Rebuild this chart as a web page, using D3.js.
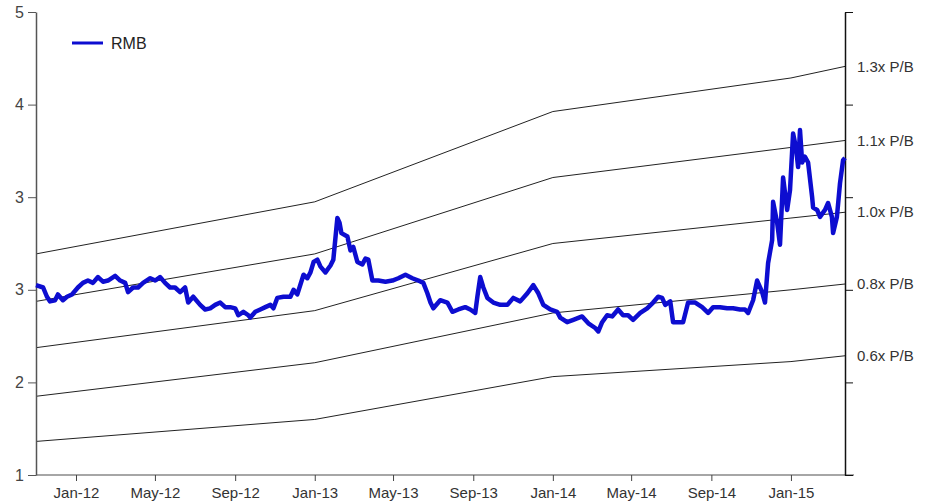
<!DOCTYPE html>
<html>
<head>
<meta charset="utf-8">
<script src="https://cdn.jsdelivr.net/npm/d3@7"></script>
<style>
  body { margin: 0; background: #fff; }
  svg text { font-family: "Liberation Sans", Arial, sans-serif; }
</style>
</head>
<body>
<svg id="chart" width="925" height="504"></svg>
<script>
// x positions are decimal years (2012.5 = mid 2012)
var rmbYears = [2011.832, 2011.862, 2011.878, 2011.891, 2011.912, 2011.924, 2011.945, 2011.962, 2011.983,
  2012.008, 2012.029, 2012.050, 2012.071, 2012.092, 2012.113, 2012.134, 2012.164, 2012.185, 2012.206, 2012.218,
  2012.239, 2012.260, 2012.281, 2012.311, 2012.332, 2012.352, 2012.373, 2012.394, 2012.415, 2012.436, 2012.457,
  2012.470, 2012.491, 2012.520, 2012.541, 2012.562, 2012.583, 2012.604, 2012.625, 2012.646, 2012.667, 2012.680,
  2012.701, 2012.722, 2012.730, 2012.751, 2012.772, 2012.793, 2012.814, 2012.827, 2012.843, 2012.869, 2012.898,
  2012.911, 2012.927, 2012.953, 2012.969, 2012.982, 2012.995, 2013.011, 2013.024, 2013.045, 2013.066, 2013.078,
  2013.095, 2013.104, 2013.112, 2013.137, 2013.150, 2013.162, 2013.179, 2013.200, 2013.213, 2013.225, 2013.242,
  2013.267, 2013.297, 2013.326, 2013.351, 2013.381, 2013.410, 2013.435, 2013.456, 2013.473, 2013.486, 2013.498,
  2013.527, 2013.557, 2013.578, 2013.603, 2013.632, 2013.653, 2013.674, 2013.683, 2013.695, 2013.708, 2013.725,
  2013.750, 2013.779, 2013.809, 2013.834, 2013.863, 2013.893, 2013.918, 2013.939, 2013.960, 2013.989, 2014.018,
  2014.031, 2014.060, 2014.086, 2014.123, 2014.149, 2014.178, 2014.191, 2014.207, 2014.228, 2014.249, 2014.274,
  2014.295, 2014.316, 2014.337, 2014.367, 2014.396, 2014.421, 2014.442, 2014.459, 2014.472, 2014.493, 2014.505,
  2014.522, 2014.547, 2014.568, 2014.598, 2014.627, 2014.652, 2014.673, 2014.702, 2014.732, 2014.757, 2014.786,
  2014.807, 2014.820, 2014.841, 2014.858, 2014.879, 2014.891, 2014.904, 2014.921, 2014.925, 2014.942, 2014.954,
  2014.967, 2014.984, 2014.996, 2015.009, 2015.021, 2015.030, 2015.038, 2015.047, 2015.059, 2015.072, 2015.089,
  2015.093, 2015.110, 2015.122, 2015.143, 2015.156, 2015.172, 2015.177, 2015.193, 2015.206, 2015.219, 2015.227];

var rmbValues = [2.64, 2.62, 2.54, 2.50, 2.51, 2.56, 2.51, 2.54, 2.56,
  2.62, 2.66, 2.68, 2.66, 2.71, 2.67, 2.68, 2.72, 2.68, 2.66, 2.58,
  2.62, 2.62, 2.66, 2.70, 2.68, 2.71, 2.66, 2.62, 2.62, 2.58, 2.62,
  2.49, 2.54, 2.47, 2.43, 2.44, 2.47, 2.49, 2.45, 2.45, 2.44, 2.38,
  2.41, 2.38, 2.36, 2.41, 2.43, 2.45, 2.47, 2.44, 2.53, 2.54, 2.54,
  2.60, 2.56, 2.73, 2.70, 2.75, 2.84, 2.86, 2.80, 2.75, 2.81, 2.86,
  3.22, 3.18, 3.09, 3.06, 2.94, 2.97, 2.84, 2.82, 2.87, 2.86, 2.68,
  2.68, 2.67, 2.68, 2.70, 2.73, 2.70, 2.68, 2.66, 2.57, 2.49, 2.44,
  2.51, 2.49, 2.41, 2.43, 2.45, 2.43, 2.40, 2.54, 2.71, 2.62, 2.53,
  2.49, 2.47, 2.47, 2.53, 2.50, 2.57, 2.64, 2.57, 2.47, 2.43, 2.41,
  2.36, 2.32, 2.34, 2.37, 2.31, 2.27, 2.24, 2.32, 2.38, 2.37, 2.43,
  2.38, 2.38, 2.34, 2.40, 2.44, 2.49, 2.54, 2.53, 2.47, 2.50, 2.32,
  2.32, 2.32, 2.49, 2.49, 2.45, 2.40, 2.45, 2.45, 2.44, 2.44, 2.43,
  2.43, 2.40, 2.51, 2.68, 2.58, 2.49, 2.83, 3.03, 3.36, 3.18, 2.99,
  3.57, 3.29, 3.46, 3.95, 3.83, 3.66, 3.98, 3.70, 3.75, 3.70, 3.40,
  3.31, 3.29, 3.23, 3.29, 3.35, 3.23, 3.09, 3.23, 3.52, 3.72, 3.74];

var bandYears = [2011.832, 2013.0, 2014.0, 2015.0, 2015.227];
var band13 = [2.91, 3.36, 4.14, 4.43, 4.53];
var band11 = [2.50, 2.91, 3.57, 3.83, 3.89];
var band10 = [2.10, 2.42, 3.00, 3.22, 3.27];
var band08 = [1.68, 1.97, 2.40, 2.60, 2.65];
var band06 = [1.29, 1.48, 1.85, 1.98, 2.03];
var bandLabels = ["1.3x P/B", "1.1x P/B", "1.0x P/B", "0.8x P/B", "0.6x P/B"];

var yTicks = [1, 1.8, 2.6, 3.4, 4.2, 5];

function toDate(t) {
  var yr = Math.floor(t);
  var a = new Date(yr, 0, 1), b = new Date(yr + 1, 0, 1);
  return new Date(+a + (t - yr) * (b - a));
}

var svg = d3.select("#chart");
var plotLeft = 36, plotRight = 845, plotTop = 12, plotBottom = 475;

var x = d3.scaleTime()
    .domain([toDate(2011.832), toDate(2015.227)])
    .range([plotLeft, plotRight]);
var y = d3.scaleLinear().domain([1, 5]).range([plotBottom, plotTop]);

// P/B bands
var bands = [band13, band11, band10, band08, band06];
var bandLine = d3.line()
    .x(function(d, i) { return x(toDate(bandYears[i])); })
    .y(function(d) { return y(d); });

svg.selectAll(".band")
    .data(bands).enter().append("path")
    .attr("class", "band")
    .attr("d", bandLine)
    .attr("fill", "none")
    .attr("stroke", "#222")
    .attr("stroke-width", 1);

svg.selectAll(".bandLabel")
    .data(bands).enter().append("text")
    .attr("x", plotRight + 12)
    .attr("y", function(d) { return y(d[d.length - 1]); })
    .attr("dy", "0.35em")
    .attr("font-size", 15)
    .attr("fill", "#333")
    .text(function(d, i) { return bandLabels[i]; });

// axes
var xAxis = svg.append("g")
    .attr("transform", "translate(0," + plotBottom + ")")
    .call(d3.axisBottom(x)
      .tickValues(d3.timeMonth.every(4).range(new Date(2012, 0, 1), new Date(2015, 1, 1)))
      .tickSize(6)
      .tickSizeOuter(0)
      .tickFormat(d3.timeFormat("%b-%y")));
xAxis.select(".domain").attr("stroke", "#888").attr("stroke-width", 1.5)
    .attr("d", "M" + plotLeft + ",0H" + (plotRight + 9));
xAxis.selectAll(".tick line").attr("stroke", "#444");
xAxis.selectAll("text").attr("font-size", 15).attr("fill", "#333").attr("y", 10).attr("dy", "0.85em");

var yAxis = svg.append("g")
    .attr("transform", "translate(" + plotLeft + ",0)")
    .call(d3.axisLeft(y).tickValues(yTicks).tickSize(8).tickSizeOuter(0)
      .tickFormat(d3.format(".0f")));
yAxis.select(".domain").attr("stroke", "#555").attr("stroke-width", 1.5);
yAxis.selectAll(".tick line").attr("stroke", "#555");
yAxis.selectAll("text").attr("font-size", 16).attr("fill", "#444").attr("x", -12);

var yAxisR = svg.append("g")
    .attr("transform", "translate(" + plotRight + ",0)")
    .call(d3.axisRight(y).tickValues(yTicks).tickSize(8).tickSizeOuter(0)
      .tickFormat(""));
yAxisR.select(".domain").attr("stroke", "#111").attr("stroke-width", 1.5);
yAxisR.selectAll(".tick line").attr("stroke", "#111");

// RMB series
var line = d3.line()
    .x(function(d, i) { return x(toDate(rmbYears[i])); })
    .y(function(d) { return y(d); });

svg.append("path")
    .datum(rmbValues)
    .attr("d", line)
    .attr("fill", "none")
    .attr("stroke", "#0d0dd0")
    .attr("stroke-width", 4.5)
    .attr("stroke-linejoin", "round");

// legend
var lg = svg.append("g").attr("transform", "translate(72,43)");
lg.append("line").attr("x1", 0).attr("x2", 31).attr("y1", 0).attr("y2", 0)
    .attr("stroke", "#0d0dd0").attr("stroke-width", 3);
lg.append("text").attr("x", 39).attr("y", 0).attr("dy", "0.35em")
    .attr("font-size", 16).attr("fill", "#222").text("RMB");
</script>
</body>
</html>
